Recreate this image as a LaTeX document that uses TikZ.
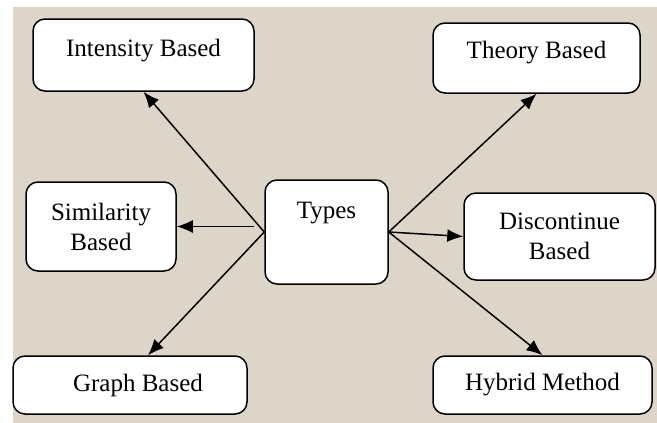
\documentclass[tikz,border=0pt]{standalone}
\usepackage{fontspec}
\setmainfont{Liberation Serif}
\usetikzlibrary{arrows.meta,positioning}
\definecolor{paper}{HTML}{DDD5C8}

\tikzset{
  box/.style={draw,line width=1.5pt,rounded corners=12pt,fill=white,
              inner sep=0pt,align=center,font=\fontsize{25}{30}\selectfont},
}

\begin{document}
\begin{tikzpicture}[x=1pt,y=-1pt,line width=1.5pt,>={Latex[length=16pt,width=13pt]}]
            \useasboundingbox (0,0) rectangle (657,423);
            \fill[paper] (13,7) rectangle (657,423);
            % the middle box
            \node[box,anchor=base,minimum width=123pt,text height=38pt,text depth=66pt] (types) at (326.5,218) {Types};
            % the six kinds
            \node[box,anchor=base,minimum width=221pt,text height=37.5pt,text depth=34.5pt] (intensity) at (143.5,56.5) {Intensity Based};
            \node[box,anchor=base,minimum width=207pt,text height=35.3pt,text depth=34.7pt] (theory) at (536.5,58.3) {Theory Based};
            \node[box,minimum width=150pt,minimum height=89pt] (similarity) at (101,226.5) {Similarity\\Based};
            \node[box,minimum width=191pt,minimum height=87pt] (discontinue) at (559.5,236.5) {Discontinue\\Based};
            \node[box,minimum width=234pt,minimum height=58pt] (graph) at (130,385) {\hspace*{16pt}Graph Based};
            \node[box,minimum width=219pt,minimum height=58pt] (hybrid) at (542.5,385) {Hybrid Method};
            \coordinate (simstart) at ([xshift=-10pt]types.west |- similarity.east);
            \draw [->] (types.west) -- (intensity.south);
            \draw [->] (simstart) -- (similarity.east);
            \draw [->] (types.west) -- ([xshift=18pt]graph.north);
            \draw [->] (types.east) -- (theory.south);
            \draw [->] (types.east) -- (discontinue.west);
            \draw [->] (types.east) -- (hybrid.north);
        \end{tikzpicture}
\end{document}
